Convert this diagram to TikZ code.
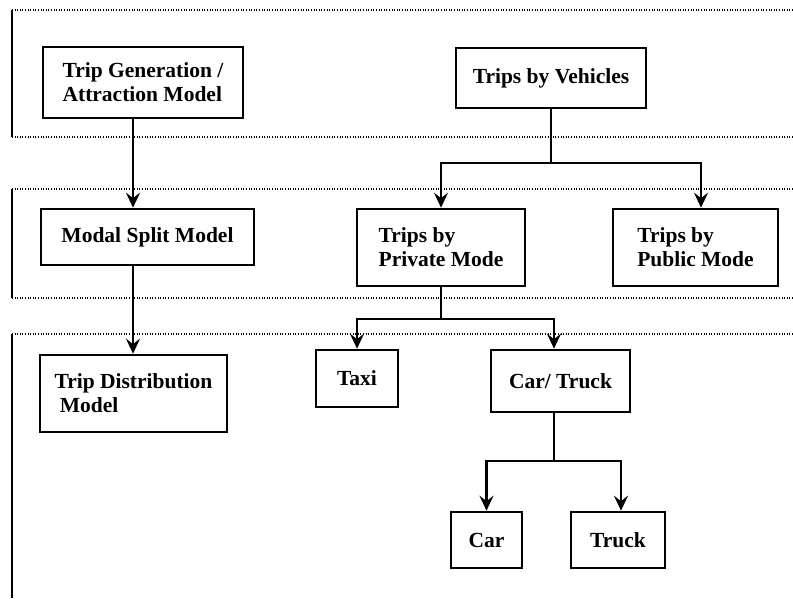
\documentclass[tikz,border=0pt]{standalone}
\usepackage{fontspec}
\setmainfont{Liberation Serif}
\usetikzlibrary{arrows.meta}
\begin{document}
\begin{tikzpicture}[x=1pt,y=-1pt,
  box/.style={draw, line width=2.6pt, align=left, inner sep=0pt,
    font=\fontsize{21.5}{24}\selectfont\bfseries},
  conn/.style={line width=2.6pt},
  arr/.style={line width=2.6pt, -{Stealth[length=15pt,width=14pt,inset=5.5pt]}},
  panelside/.style={line width=2.2pt},
  paneledge/.style={line width=1.1pt, dash pattern=on 1pt off 1.6pt}]
\useasboundingbox (0,0) rectangle (793,598);
% panels
\draw[panelside] (12,10) -- (12,137);
\draw[paneledge] (12,10) -- (793,10);
\draw[paneledge] (12,137) -- (793,137);
\draw[panelside] (12,189) -- (12,298);
\draw[paneledge] (12,189) -- (793,189);
\draw[paneledge] (12,298) -- (793,298);
\draw[panelside] (12,334) -- (12,598);
\draw[paneledge] (12,334) -- (793,334);
% boxes
\node[box, minimum width=200pt, minimum height=71pt] (tg) at (143,82.5) {Trip Generation /\\Attraction Model};
\node[box, minimum width=190pt, minimum height=60pt] (tv) at (551,78) {Trips by Vehicles};
\node[box, minimum width=213pt, minimum height=56pt] (ms) at (147.5,237) {Modal Split Model};
\node[box, minimum width=168pt, minimum height=77pt] (pr) at (441,247.5) {Trips by\\Private Mode};
\node[box, minimum width=165pt, minimum height=77pt] (pu) at (695.5,247.5) {Trips by\\Public Mode};
\node[box, minimum width=187pt, minimum height=77pt] (td) at (133.5,393.5) {Trip Distribution\\\ Model};
\node[box, minimum width=82pt, minimum height=57pt] (tx) at (357,378.5) {Taxi};
\node[box, minimum width=139pt, minimum height=62pt] (ct) at (560.5,381) {Car/ Truck};
\node[box, minimum width=71pt, minimum height=56pt] (car) at (486.5,540) {Car};
\node[box, minimum width=94pt, minimum height=56pt] (tr) at (618,540) {Truck};
% helper coordinates
\coordinate (xa) at (133,0);
\coordinate (xpu) at (701,0);
\coordinate (xct) at (554,0);
\coordinate (xtr) at (621,0);
\coordinate (j1) at (0,163);
\coordinate (j2) at (0,319);
\coordinate (j3) at (0,461);
% connectors
\draw[arr] (xa |- tg.south) -- (xa |- ms.north);
\draw[arr] (xa |- ms.south) -- (xa |- td.north);
\draw[arr] (tv.south) -- (tv.south |- j1) -| (pr.north);
\draw[arr] (tv.south |- j1) -| (xpu |- pu.north);
\draw[arr] (pr.south) -- (pr.south |- j2) -| (tx.north);
\draw[arr] (pr.south |- j2) -| (xct |- ct.north);
\draw[arr] (xct |- ct.south) -- (xct |- j3) -| (car.north);
\draw[arr] (xct |- j3) -| (xtr |- tr.north);
\end{tikzpicture}
\end{document}
